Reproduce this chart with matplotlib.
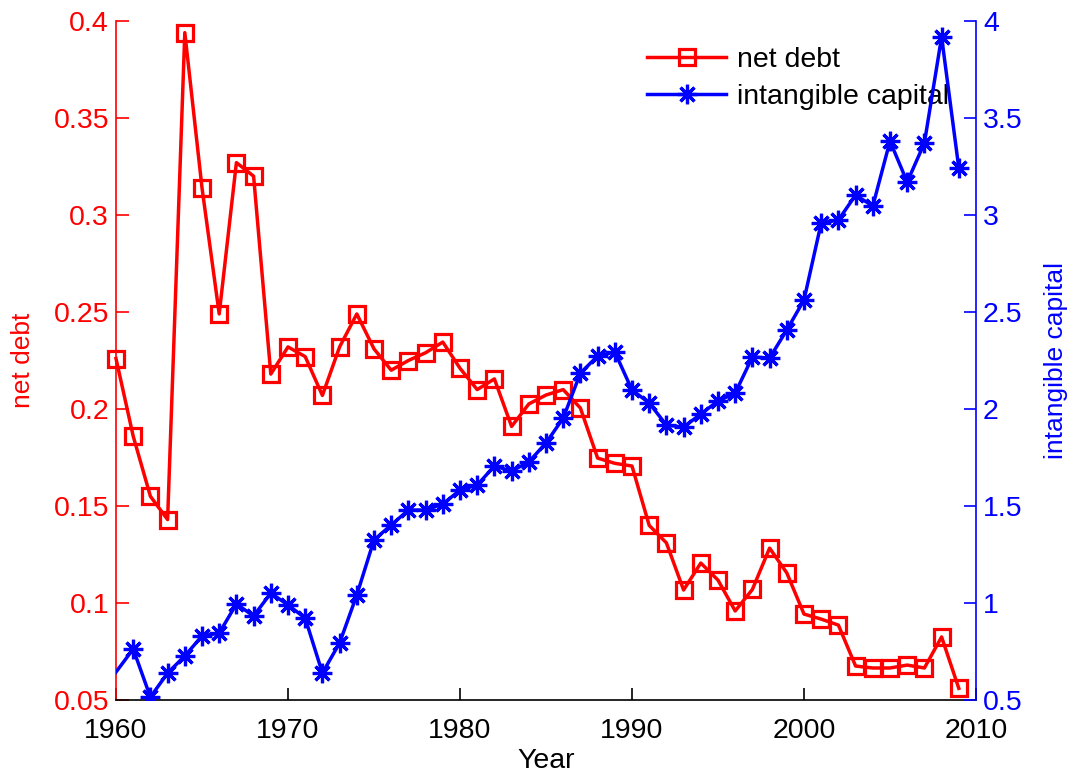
import matplotlib
matplotlib.use("Agg")
import matplotlib.pyplot as plt

plt.rcParams['font.family'] = ['Liberation Sans', 'DejaVu Sans']

# Net debt ratio, 1960-2009
debt_years = list(range(1960, 2010))
net_debt = [
    0.226, 0.186, 0.155, 0.143, 0.394, 0.314, 0.249, 0.327, 0.320, 0.218,
    0.232, 0.227, 0.207, 0.232, 0.249, 0.231, 0.220, 0.225, 0.229, 0.2345,
    0.221, 0.210, 0.2155, 0.191, 0.2026, 0.2072, 0.210, 0.2005, 0.1747, 0.172,
    0.1706, 0.140, 0.131, 0.1067, 0.1206, 0.1118, 0.0959, 0.107, 0.1283, 0.1155,
    0.0943, 0.0917, 0.0886, 0.0675, 0.0665, 0.0665, 0.068, 0.0665, 0.0825, 0.056,
]

# Intangible capital ratio, 1959-2009
cap_years = list(range(1959, 2010))
intangible_capital = [
    0.52,
    0.644, 0.763, 0.515, 0.639, 0.727, 0.830, 0.845, 0.995, 0.933, 1.051,
    0.990, 0.922, 0.639, 0.794, 1.041, 1.325, 1.402, 1.479, 1.479, 1.510,
    1.582, 1.608, 1.706, 1.680, 1.727, 1.825, 1.953, 2.185, 2.273, 2.294,
    2.098, 2.031, 1.917, 1.907, 1.974, 2.041, 2.082, 2.268, 2.263, 2.407,
    2.562, 2.959, 2.974, 3.103, 3.046, 3.381, 3.170, 3.371, 3.918, 3.242,
]

x_ticks = [1960, 1970, 1980, 1990, 2000, 2010]
left_ticks = [0.05, 0.1, 0.15, 0.2, 0.25, 0.3, 0.35, 0.4]
left_ticklabels = ['0.05', '0.1', '0.15', '0.2', '0.25', '0.3', '0.35', '0.4']
right_ticks = [0.5, 1, 1.5, 2, 2.5, 3, 3.5, 4]
right_ticklabels = ['0.5', '1', '1.5', '2', '2.5', '3', '3.5', '4']

RED = '#ff0000'
BLUE = '#0000ff'
FS = 20.5
LABEL_FS = 19

fig = plt.figure(figsize=(10.70, 7.74), dpi=100)
ax = fig.add_axes([116 / 1070, 1 - 700 / 774, 860 / 1070, 679 / 774])
ax2 = ax.twinx()

l1, = ax.plot(debt_years, net_debt, color=RED, lw=2.5, marker='s',
              markersize=11.5, markerfacecolor='none', markeredgecolor=RED,
              markeredgewidth=2.3, clip_on=False, label='net debt')
l2, = ax2.plot(cap_years, intangible_capital, color=BLUE, lw=2.5,
               marker=(8, 2, 0), markersize=14, markeredgecolor=BLUE,
               markeredgewidth=2.3, markevery=slice(2, None),
               label='intangible capital')

ax.set_xlim(1960, 2010)
ax.set_ylim(0.05, 0.4)
ax2.set_ylim(0.5, 4)

ax.set_xticks(x_ticks)
ax.set_xticklabels([str(v) for v in x_ticks])
ax.set_yticks(left_ticks)
ax.set_yticklabels(left_ticklabels)
ax2.set_yticks(right_ticks)
ax2.set_yticklabels(right_ticklabels)

for a in (ax, ax2):
    a.spines['top'].set_visible(False)
    a.patch.set_visible(False)

ax.spines['left'].set_color(RED)
ax.spines['right'].set_visible(False)
ax.spines['bottom'].set_color('black')
ax2.spines['left'].set_visible(False)
ax2.spines['bottom'].set_visible(False)
ax2.spines['right'].set_color(BLUE)
for s in ('left', 'bottom'):
    ax.spines[s].set_linewidth(1.2)
ax2.spines['right'].set_linewidth(1.2)

ax.tick_params(axis='x', direction='in', length=9, width=1.2, colors='black',
               labelsize=FS, pad=13, top=False)
ax.tick_params(axis='y', direction='in', length=9, width=1.2, colors=RED,
               labelsize=FS, pad=5)
ax2.tick_params(axis='y', direction='in', length=9, width=1.2, colors=BLUE,
                labelsize=FS, pad=5)

ax.set_xlabel('Year', fontsize=FS, labelpad=2.5)
ax.set_ylabel('net debt', fontsize=LABEL_FS, color=RED, labelpad=13)
ax2.set_ylabel('intangible capital', fontsize=LABEL_FS, color=BLUE, labelpad=15)

leg = ax.legend([l1, l2], ['net debt', 'intangible capital'], loc='upper left',
                bbox_to_anchor=(0.618, 0.962), frameon=False, fontsize=FS,
                handlelength=2.75, handletextpad=0.4, labelspacing=0.38,
                borderpad=0, borderaxespad=0)
leg.set_zorder(5)

fig.savefig('out.png', dpi=100)
